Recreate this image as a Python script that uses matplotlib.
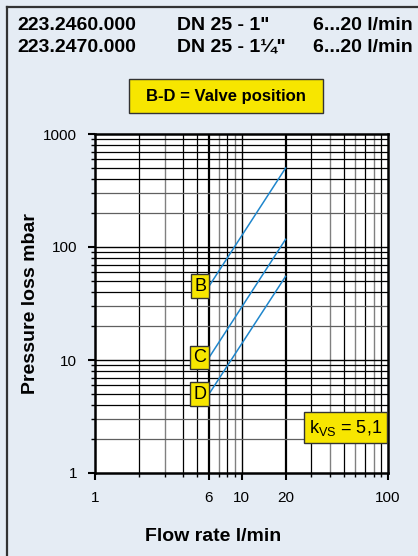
import matplotlib
matplotlib.use("Agg")
import matplotlib.pyplot as plt
from matplotlib.ticker import FixedLocator, NullFormatter, FixedFormatter
import matplotlib.patches as mpatches

# ---- data ----
flow = [6, 20]
series_names = ["B", "C", "D"]
series_B = [45, 500]
series_C = [10.5, 117]
series_D = [5, 55]
x_ticks = [1, 6, 10, 20, 100]
x_ticklabels = ["1", "6", "10", "20", "100"]
y_ticks = [1, 10, 100, 1000]
y_ticklabels = ["1", "10", "100", "1000"]
header_rows = [("223.2460.000", "DN 25 - 1\"", "6...20 l/min"),
               ("223.2470.000", "DN 25 - 1\u00bc\"", "6...20 l/min")]
kvs_text = r"k$_\mathregular{VS}$ = 5,1"

BG = "#e5ecf4"
YEL = "#f7e600"
LINE = "#1f86cc"
FONT = ["Liberation Sans Narrow", "Liberation Sans", "DejaVu Sans"]
FONTB = ["Liberation Sans", "DejaVu Sans"]

fig = plt.figure(figsize=(4.18, 5.56), dpi=100, facecolor=BG)
W, H = 418, 556

def fx(px):
    return px / W

def fy(py):
    return 1 - py / H

# frame (left + top)
fig.add_artist(plt.Line2D([fx(7), fx(7)], [0, fy(7)], color="#333333", lw=1.6))
fig.add_artist(plt.Line2D([fx(7), 1], [fy(7), fy(7)], color="#333333", lw=1.6))

# header
for i, (a, b, c) in enumerate(header_rows):
    yy = fy(25 + 22 * i)
    fig.text(fx(17), yy, a, fontsize=14, fontweight="bold", family=FONTB, va="center")
    fig.text(fx(177), yy, b, fontsize=14, fontweight="bold", family=FONTB, va="center")
    fig.text(fx(313), yy, c, fontsize=14, fontweight="bold", family=FONTB, va="center")

# valve position box
fig.add_artist(mpatches.Rectangle((fx(129), fy(113)), fx(323) - fx(129), fy(79) - fy(113),
                                  transform=fig.transFigure, facecolor=YEL, edgecolor="#333333", lw=1))
fig.text(fx(226), fy(96), "B-D = Valve position", fontsize=12, fontweight="bold",
         family=FONTB, ha="center", va="center")

ax = fig.add_axes([fx(95), fy(473), fx(388) - fx(95), fy(134) - fy(473)])
ax.set_facecolor("white")
ax.set_xscale("log")
ax.set_yscale("log")
ax.set_xlim(1, 100)
ax.set_ylim(1, 1000)

# grid
xminor = [2, 3, 4, 5, 7, 8, 9, 30, 40, 50, 60, 70, 80, 90]
grey_x = {3, 7, 9, 40, 60, 80}
for v in xminor:
    ax.axvline(v, color="#808080" if v in grey_x else "black", lw=1.0 if v in grey_x else 0.9, zorder=1)
for v in [6, 20]:
    ax.axvline(v, color="black", lw=1.6, zorder=1)
ax.axvline(10, color="black", lw=1.0, zorder=1)
for dec in [1, 10, 100]:
    for m in range(2, 10):
        ax.axhline(dec * m, color="#606060" if m in (2, 3) else "black", lw=0.9, zorder=1)
for v in [10, 100]:
    ax.axhline(v, color="black", lw=1.0, zorder=1)

for s in ax.spines.values():
    s.set_linewidth(1.8)
    s.set_color("black")

ax.xaxis.set_major_locator(FixedLocator(x_ticks))
ax.xaxis.set_major_formatter(FixedFormatter(x_ticklabels))
ax.xaxis.set_minor_locator(FixedLocator(xminor))
ax.xaxis.set_minor_formatter(NullFormatter())
ax.yaxis.set_major_locator(FixedLocator(y_ticks))
ax.yaxis.set_major_formatter(FixedFormatter(y_ticklabels))
ax.yaxis.set_minor_locator(FixedLocator([d * m for d in [1, 10, 100] for m in range(2, 10)]))
ax.yaxis.set_minor_formatter(NullFormatter())
ax.tick_params(which="major", length=5, width=1.5, labelsize=11, pad=8)
ax.tick_params(which="minor", length=3, width=1.0)
for lab in ax.get_xticklabels() + ax.get_yticklabels():
    lab.set_family(FONT)

# series lines
for name, vals in zip(series_names, [series_B, series_C, series_D]):
    ax.plot(flow, vals, color=LINE, lw=1.1, zorder=3)
    ax.annotate(name, xy=(flow[0], vals[0]), xytext=(-2, 0), textcoords="offset points",
                ha="right", va="center", fontsize=13, family=FONT, zorder=5,
                bbox=dict(boxstyle="square,pad=0.18", facecolor=YEL, edgecolor="#333333", lw=1))

# kvs box
ax.text(0.855, 0.133, kvs_text, transform=ax.transAxes, ha="center", va="center",
        fontsize=13, family=FONT, zorder=5,
        bbox=dict(boxstyle="square,pad=0.3", facecolor=YEL, edgecolor="#333333", lw=1))

ax.set_xlabel("Flow rate l/min", fontsize=14, fontweight="bold", family=FONTB)
ax.set_ylabel("Pressure loss mbar", fontsize=14, fontweight="bold", family=FONTB)
ax.xaxis.set_label_coords(0.403, -0.163)
ax.yaxis.set_label_coords(-0.19, 0.5)

fig.savefig("out.png", dpi=100, facecolor=BG)
